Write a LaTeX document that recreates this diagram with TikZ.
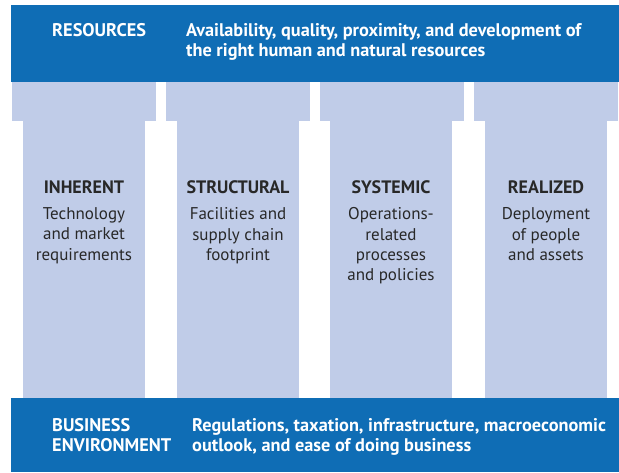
\documentclass[tikz,border=0pt]{standalone}
\usepackage{fontspec}
\setmainfont{PT Sans}
\usetikzlibrary{positioning}

\definecolor{bandblue}{RGB}{15,109,181}
\definecolor{pillarblue}{RGB}{192,204,232}
\definecolor{pillartext}{RGB}{40,40,40}

\begin{document}
\begin{tikzpicture}[x=1pt,y=-1pt]

\tikzstyle{band} = [rectangle,fill=bandblue,draw=none,inner sep=0,anchor=north west,minimum width=608pt]%
\tikzstyle{capital} = [rectangle,fill=pillarblue,draw=none,inner sep=0,anchor=north west,minimum width=144pt,minimum height=39pt]%
\tikzstyle{shaft} = [rectangle,fill=pillarblue,draw=none,inner sep=0,anchor=north west,minimum width=122pt,minimum height=278pt]%
\tikzstyle{bandhead} = [inner sep=0,anchor=north west,align=left,text=white,font=\fontsize{18.3}{19.8}\selectfont\bfseries]%
\tikzstyle{bandtext} = [bandhead]%
\tikzstyle{pillarhead} = [inner sep=0,anchor=base,text=pillartext,font=\fontsize{18}{20}\selectfont\bfseries]%
\tikzstyle{pillartxt} = [inner sep=0,anchor=north,align=center,text=pillartext,font=\fontsize{17}{20.3}\selectfont]%

\useasboundingbox (0,0) rectangle (619,472);

% top and bottom bands
\node[band,minimum height=77pt] (resources) at (11,5) {};
\node[band,minimum height=74pt] (environment) at (11,398) {};

% pillars
\node[capital] (capA) at (12,82) {};
\node[capital] (capB) at (166,82) {};
\node[capital] (capC) at (320,82) {};
\node[capital] (capD) at (474,82) {};
\node[shaft] (shaftA) at (23,120) {};
\node[shaft] (shaftB) at (177,120) {};
\node[shaft] (shaftC) at (330,120) {};
\node[shaft] (shaftD) at (485,120) {};

% band texts
\node[bandhead] (reshead) at (52,23.5) {RESOURCES};
\node[bandtext] (restext) at (186,23) {Availability, quality, proximity, and development of\\the right human and natural resources};
\node[bandhead] (envhead) at (52,418.5) {BUSINESS\\ENVIRONMENT};
\node[bandtext] (envtext) at (192,418) {Regulations, taxation, infrastructure, macroeconomic\\outlook, and ease of doing business};

% pillar texts
\node[pillarhead] (inhhead) at (84,193) {INHERENT};
\node[pillartxt] (inhtext) at (84,207.5) {Technology\\and market\\requirements};
\node[pillarhead] (strhead) at (238,193) {STRUCTURAL};
\node[pillartxt] (strtext) at (238,207.5) {Facilities and\\supply chain\\footprint};
\node[pillarhead] (syshead) at (391,193) {SYSTEMIC};
\node[pillartxt] (systext) at (391,207.5) {Operations-\\related\\processes\\and policies};
\node[pillarhead] (reahead) at (546,193) {REALIZED};
\node[pillartxt] (reatext) at (546,207.5) {Deployment\\of people\\and assets};

\end{tikzpicture}
\end{document}
